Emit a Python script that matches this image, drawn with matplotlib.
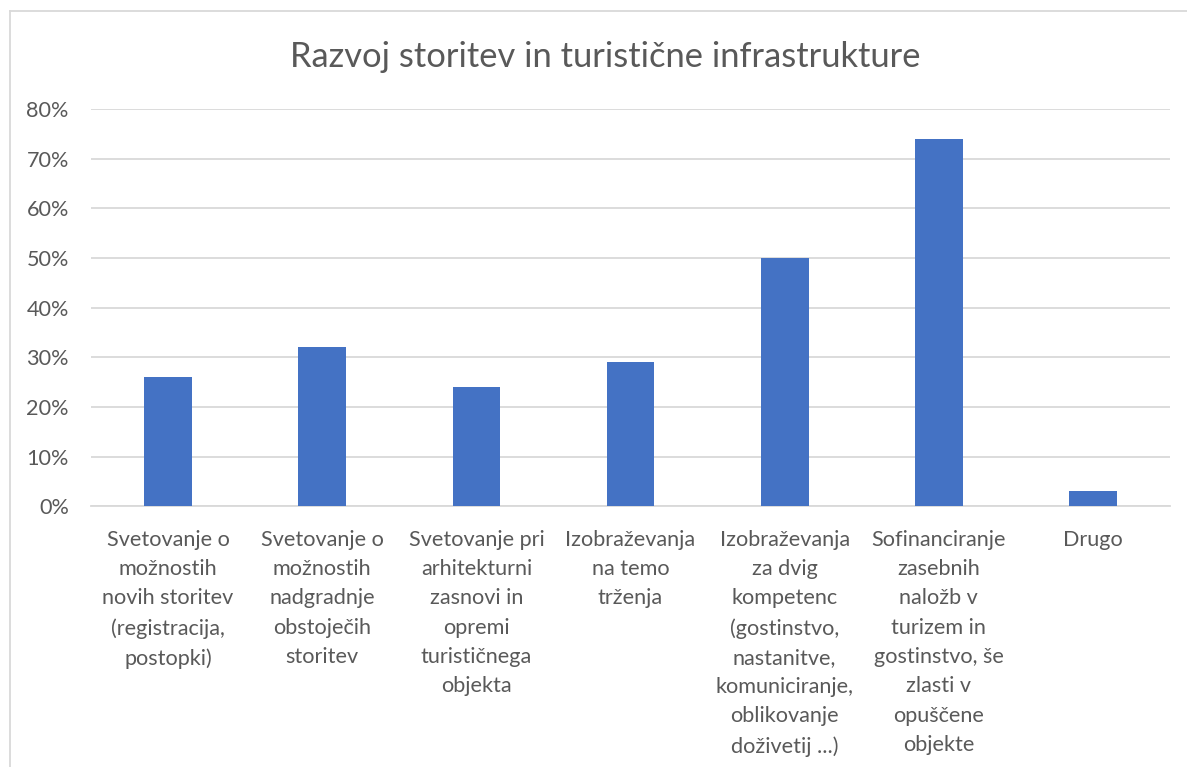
import matplotlib
matplotlib.use("Agg")
from matplotlib import pyplot as plt
from matplotlib.lines import Line2D
from matplotlib.ticker import PercentFormatter

plt.rcParams['font.family'] = ['Lato', 'DejaVu Sans']

categories = [
    "Svetovanje o\nmožnostih\nnovih storitev\n(registracija,\npostopki)",
    "Svetovanje o\nmožnostih\nnadgradnje\nobstoječih\nstoritev",
    "Svetovanje pri\narhitekturni\nzasnovi in\nopremi\nturističnega\nobjekta",
    "Izobraževanja\nna temo\ntrženja",
    "Izobraževanja\nza dvig\nkompetenc\n(gostinstvo,\nnastanitve,\nkomuniciranje,\noblikovanje\ndoživetij ...)",
    "Sofinanciranje\nzasebnih\nnaložb v\nturizem in\ngostinstvo, še\nzlasti v\nopuščene\nobjekte",
    "Drugo",
]
values = [0.26, 0.32, 0.24, 0.29, 0.50, 0.74, 0.03]
yticks = [0, 0.1, 0.2, 0.3, 0.4, 0.5, 0.6, 0.7, 0.8]

grey = '#595959'
gridc = '#D9D9D9'

fig = plt.figure(figsize=(11.87, 7.67), dpi=100)
ax = fig.add_axes([0.0767, 0.340, 0.909, 0.518])

x = range(len(values))
ax.bar(x, values, width=0.31, color='#4472C4', zorder=3)
ax.set_xlim(-0.5, len(values) - 0.5)
ax.set_ylim(0, 0.8)
ax.set_yticks(yticks)
ax.yaxis.set_major_formatter(PercentFormatter(1.0, decimals=0))
ax.set_xticks(list(x))
ax.set_xticklabels(categories, fontsize=15.6, color=grey, linespacing=1.58)
ax.tick_params(axis='y', labelsize=15.6, labelcolor=grey, length=0, pad=16)
ax.tick_params(axis='x', length=0, pad=17)
ax.grid(axis='y', color=gridc, linewidth=1.3, zorder=0)
for s in ['top', 'right', 'left']:
    ax.spines[s].set_visible(False)
ax.spines['bottom'].set_color(gridc)
ax.spines['bottom'].set_linewidth(1.3)

fig.text(0.51, 0.926, "Razvoj storitev in turistične infrastrukture",
         ha='center', va='center', fontsize=24.8, color=grey)

# chart frame (only top and left edges show)
fig.add_artist(Line2D([10 / 1187, 1], [1 - 11 / 767, 1 - 11 / 767],
                      color=gridc, linewidth=1.3, transform=fig.transFigure))
fig.add_artist(Line2D([10 / 1187, 10 / 1187], [0, 1 - 11 / 767],
                      color=gridc, linewidth=1.3, transform=fig.transFigure))

fig.savefig('out.png', dpi=100)
